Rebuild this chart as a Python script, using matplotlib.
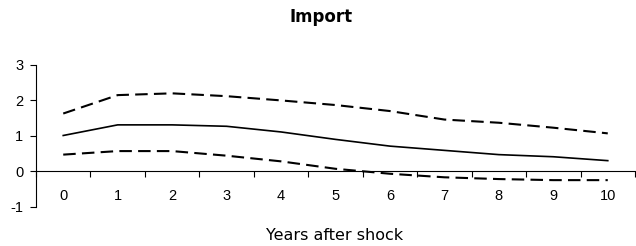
import matplotlib
matplotlib.use("Agg")
import matplotlib.pyplot as plt
import numpy as np

years = list(range(0, 11))
irf = [1.01, 1.31, 1.31, 1.27, 1.11, 0.90, 0.71, 0.59, 0.47, 0.41, 0.30]
upper = [1.63, 2.15, 2.20, 2.12, 2.00, 1.87, 1.70, 1.46, 1.37, 1.23, 1.07]
lower = [0.47, 0.57, 0.57, 0.44, 0.28, 0.07, -0.07, -0.17, -0.22, -0.25, -0.25]
yticks = [-1, 0, 1, 2, 3]

W, H = 636, 246
fig = plt.figure(figsize=(W / 100, H / 100), dpi=100)
ax = fig.add_axes([36 / W, (H - 206.7) / H, 599 / W, (206.7 - 65) / H])

ax.plot(years, irf, color="black", lw=1.2, solid_joinstyle="round")
ax.plot(years, upper, color="black", lw=1.5, dashes=(6, 3))
ax.plot(years, lower, color="black", lw=1.5, dashes=(6, 3))

ax.set_xlim(-0.5, 10.5)
ax.set_ylim(-1, 3)
ax.spines["top"].set_visible(False)
ax.spines["right"].set_visible(False)
ax.spines["bottom"].set_position(("data", 0))
for s in ("left", "bottom"):
    ax.spines[s].set_linewidth(0.8)

tickfont = dict(family="Liberation Sans", size=10.5)
ax.set_yticks(yticks)
ax.set_yticklabels([str(v) for v in yticks], fontdict=tickfont)
ax.tick_params(axis="y", length=4, width=0.8, pad=5)

ax.set_xticks(years)
ax.set_xticklabels([str(v) for v in years], fontdict=tickfont)
ax.tick_params(axis="x", which="major", length=0, pad=13)
ax.set_xticks(np.arange(-0.5, 10.6, 1), minor=True)
ax.tick_params(axis="x", which="minor", length=4, width=0.8, direction="out")

fig.text(321 / W, 1 - 22 / H, "Import", ha="center", va="baseline",
         fontsize=12, fontweight="bold", family="DejaVu Sans")
fig.text(335 / W, 1 - 240 / H, "Years after shock", ha="center", va="baseline",
         fontsize=11.5, family="DejaVu Sans")

fig.savefig("out.png", dpi=100)
